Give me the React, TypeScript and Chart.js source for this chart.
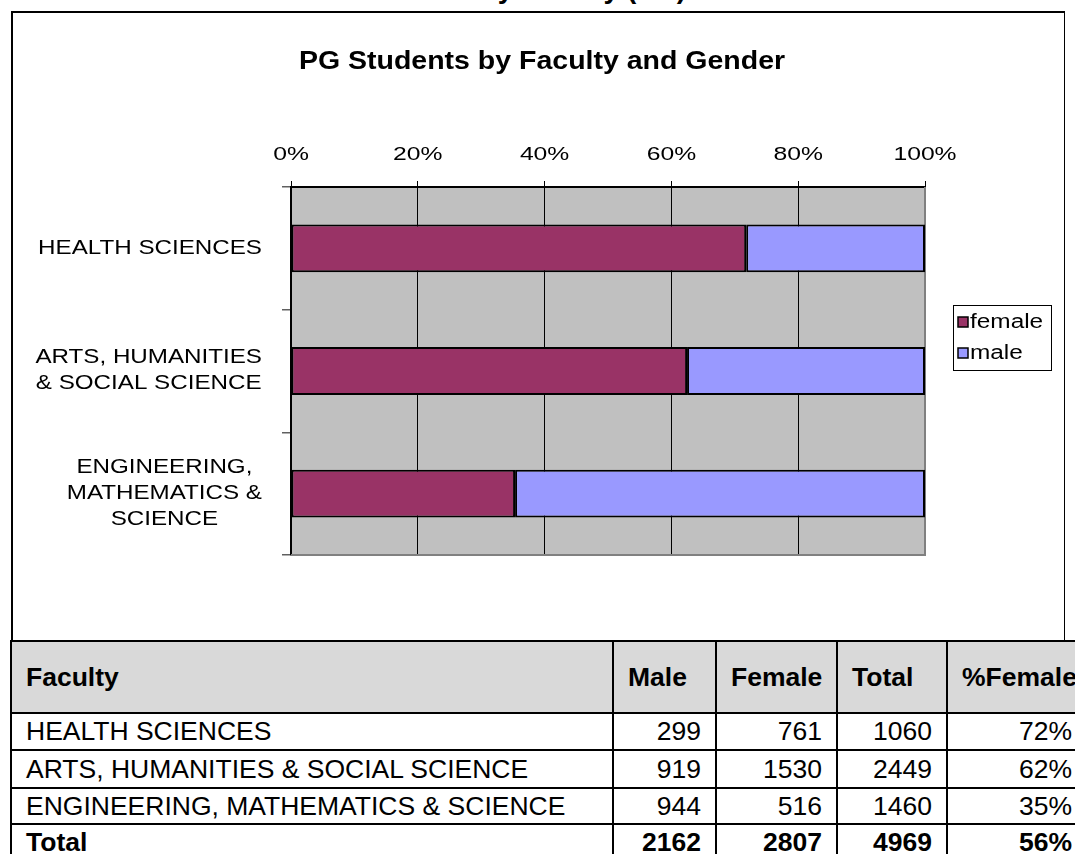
import React, { useEffect, useRef } from "react";
import { Chart, registerables } from "chart.js";

Chart.register(...registerables);

const chartTitle = "PG Students by Faculty and Gender";
const pageHeading = "Students by Faculty (PG)";
const categoryLabels: string[][] = [
  ["HEALTH SCIENCES"],
  ["ARTS, HUMANITIES", "& SOCIAL SCIENCE"],
  ["ENGINEERING,", "MATHEMATICS &", "SCIENCE"],
];
const facultyNames = [
  "HEALTH SCIENCES",
  "ARTS, HUMANITIES & SOCIAL SCIENCE",
  "ENGINEERING, MATHEMATICS & SCIENCE",
];
const maleCounts = [299, 919, 944];
const femaleCounts = [761, 1530, 516];
const seriesNames = ["female", "male"];
const seriesColors = ["#993366", "#9999FF"];
const xTickStep = 20;
const tableHeaders = ["Faculty", "Male", "Female", "Total", "%Female"];

const FONT = '"Liberation Sans", Arial, Helvetica, sans-serif';

const totals = maleCounts.map((m, i) => m + femaleCounts[i]);
const femalePct = femaleCounts.map((f, i) => (f / totals[i]) * 100);
const malePct = maleCounts.map((m, i) => (m / totals[i]) * 100);

function drawStretched(ctx: CanvasRenderingContext2D, text: string, x: number, y: number, align: CanvasTextAlign, sx: number) {
  ctx.save();
  ctx.translate(x, y);
  ctx.scale(sx, 1);
  ctx.textAlign = align;
  ctx.fillText(text, 0, 0);
  ctx.restore();
}

function ChartBox() {
  const ref = useRef<HTMLCanvasElement | null>(null);
  useEffect(() => {
    if (!ref.current) return;
    const decor = {
      id: "decor",
      beforeDraw(chart: any) {
        const { ctx, chartArea: a } = chart;
        ctx.save();
        ctx.fillStyle = "#C0C0C0";
        ctx.fillRect(a.left, a.top, a.right - a.left, a.bottom - a.top);
        ctx.restore();
      },
      beforeDatasetsDraw(chart: any) {
        const { ctx, chartArea: a } = chart;
        ctx.save();
        ctx.strokeStyle = "#808080";
        ctx.lineWidth = 2;
        ctx.beginPath();
        ctx.moveTo(a.right, a.top);
        ctx.lineTo(a.right, a.bottom);
        ctx.lineTo(a.left, a.bottom);
        ctx.stroke();
        ctx.restore();
      },
      afterDraw(chart: any) {
        const { ctx } = chart;
        const ys = chart.scales.y;
        const xs = chart.scales.x;
        ctx.save();
        ctx.fillStyle = "#000";
        ctx.textBaseline = "middle";
        // title
        ctx.font = `bold 25px ${FONT}`;
        drawStretched(ctx, chartTitle, 529, 49, "center", 1.14);
        // x tick labels
        ctx.font = `19px ${FONT}`;
        xs.ticks.forEach((t: any) => {
          drawStretched(ctx, `${t.value}%`, xs.getPixelForValue(t.value), 142, "center", 1.3);
        });
        // category labels
        const sxL = 1.24;
        ctx.font = `19.5px ${FONT}`;
        const lh = 26;
        const rightEdge = 249;
        categoryLabels.forEach((lines, i) => {
          const yc = ys.getPixelForValue(i);
          const maxW = Math.max(...lines.map((l) => ctx.measureText(l).width)) * sxL;
          const cx = rightEdge - maxW / 2;
          const y0 = yc - ((lines.length - 1) * lh) / 2;
          lines.forEach((l, k) => drawStretched(ctx, l, cx, y0 + k * lh, "center", sxL));
        });
        // legend
        const lx = 940, ly = 292, lw = 98, lhh = 65;
        ctx.fillStyle = "#fff";
        ctx.fillRect(lx, ly, lw, lhh);
        ctx.strokeStyle = "#000";
        ctx.lineWidth = 1;
        ctx.strokeRect(lx + 0.5, ly + 0.5, lw, lhh);
        ctx.font = `19.5px ${FONT}`;
        seriesNames.forEach((n, i) => {
          const yy = ly + 17 + i * 31;
          ctx.fillStyle = seriesColors[i];
          ctx.fillRect(lx + 5, yy - 5, 10, 10);
          ctx.strokeStyle = "#000";
          ctx.lineWidth = 1.5;
          ctx.strokeRect(lx + 5, yy - 5, 10, 10);
          ctx.fillStyle = "#000";
          drawStretched(ctx, n, lx + 17, yy + 1, "left", 1.25);
        });
        ctx.restore();
      },
    };
    const chart = new Chart(ref.current, {
      type: "bar",
      data: {
        labels: categoryLabels.map((l) => l.join(" ")),
        datasets: [
          {
            label: seriesNames[0],
            data: femalePct,
            backgroundColor: seriesColors[0],
            borderColor: "#000",
            borderWidth: 2,
            borderSkipped: false,
            barPercentage: 0.39,
            categoryPercentage: 1,
          },
          {
            label: seriesNames[1],
            data: malePct,
            backgroundColor: seriesColors[1],
            borderColor: "#000",
            borderWidth: 2,
            borderSkipped: false,
            barPercentage: 0.39,
            categoryPercentage: 1,
          },
        ],
      },
      options: {
        indexAxis: "y",
        responsive: false,
        animation: false,
        events: [],
        layout: { padding: { left: 0, top: 114, right: 138, bottom: 84 } },
        plugins: { legend: { display: false }, title: { display: false }, tooltip: { enabled: false } },
        scales: {
          x: {
            type: "linear",
            position: "top",
            stacked: true,
            min: 0,
            max: 100,
            afterFit: (s: any) => {
              s.height = 60;
            },
            ticks: { stepSize: xTickStep, display: false },
            grid: { color: "#000", lineWidth: 1, tickLength: 6, drawOnChartArea: true },
            border: { display: true, color: "#000", width: 2 },
          },
          y: {
            type: "category",
            stacked: true,
            afterFit: (s: any) => {
              s.width = 278;
            },
            ticks: { display: false },
            grid: { offset: true, drawOnChartArea: false, tickLength: 9, color: "#606060", lineWidth: 1.5 },
            border: { display: true, color: "#000", width: 2 },
          },
        },
      },
      plugins: [decor],
    } as any);
    return () => chart.destroy();
  }, []);
  return <canvas ref={ref} width={1050} height={626} style={{ position: "absolute", left: 13, top: 13, width: 1050, height: 626 }} />;
}

const cellBase: React.CSSProperties = {
  border: "2px solid #000",
  padding: "0 14px",
  fontSize: 26.5,
  whiteSpace: "nowrap",
  overflow: "visible",
};

export default function App() {
  const colW = [602, 103, 121, 110, 140];
  const rowH = [37, 38, 36];
  const totalM = maleCounts.reduce((a, b) => a + b, 0);
  const totalF = femaleCounts.reduce((a, b) => a + b, 0);
  const totalAll = totalM + totalF;
  return (
    <div
      style={{
        position: "fixed",
        left: 0,
        top: 0,
        width: 1075,
        height: 854,
        overflow: "hidden",
        background: "#fff",
        fontFamily: FONT,
        color: "#000",
      }}
    >
      <div
        style={{
          position: "absolute",
          left: 0,
          top: -25,
          width: 686,
          textAlign: "right",
          fontWeight: "bold",
          fontSize: 28,
          lineHeight: "28px",
          whiteSpace: "nowrap",
        }}
      >
        {pageHeading}
      </div>
      <div
        style={{
          position: "absolute",
          left: 11,
          top: 11,
          width: 1054,
          height: 640,
          boxSizing: "border-box",
          borderTop: "2px solid #000",
          borderLeft: "2px solid #000",
          borderRight: "1px solid #000",
        }}
      />
      <ChartBox />
      <table
        style={{
          position: "absolute",
          left: 10,
          top: 640,
          borderCollapse: "collapse",
          tableLayout: "fixed",
          width: colW.reduce((a, b) => a + b, 0),
          background: "#fff",
        }}
      >
        <colgroup>
          {colW.map((w, i) => (
            <col key={i} style={{ width: w }} />
          ))}
        </colgroup>
        <tbody>
          <tr style={{ height: 72, background: "#D9D9D9" }}>
            {tableHeaders.map((h, i) => (
              <td key={i} style={{ ...cellBase, fontWeight: "bold", textAlign: "left" }}>
                {h}
              </td>
            ))}
          </tr>
          {facultyNames.map((f, i) => (
            <tr key={i} style={{ height: rowH[i] }}>
              <td style={{ ...cellBase, textAlign: "left" }}>{f}</td>
              <td style={{ ...cellBase, textAlign: "right" }}>{maleCounts[i]}</td>
              <td style={{ ...cellBase, textAlign: "right" }}>{femaleCounts[i]}</td>
              <td style={{ ...cellBase, textAlign: "right" }}>{totals[i]}</td>
              <td style={{ ...cellBase, textAlign: "right" }}>{Math.round(femalePct[i])}%</td>
            </tr>
          ))}
          <tr style={{ height: 37 }}>
            <td style={{ ...cellBase, fontWeight: "bold", textAlign: "left" }}>Total</td>
            <td style={{ ...cellBase, fontWeight: "bold", textAlign: "right" }}>{totalM}</td>
            <td style={{ ...cellBase, fontWeight: "bold", textAlign: "right" }}>{totalF}</td>
            <td style={{ ...cellBase, fontWeight: "bold", textAlign: "right" }}>{totalAll}</td>
            <td style={{ ...cellBase, fontWeight: "bold", textAlign: "right" }}>
              {Math.round((totalF / totalAll) * 100)}%
            </td>
          </tr>
        </tbody>
      </table>
    </div>
  );
}
